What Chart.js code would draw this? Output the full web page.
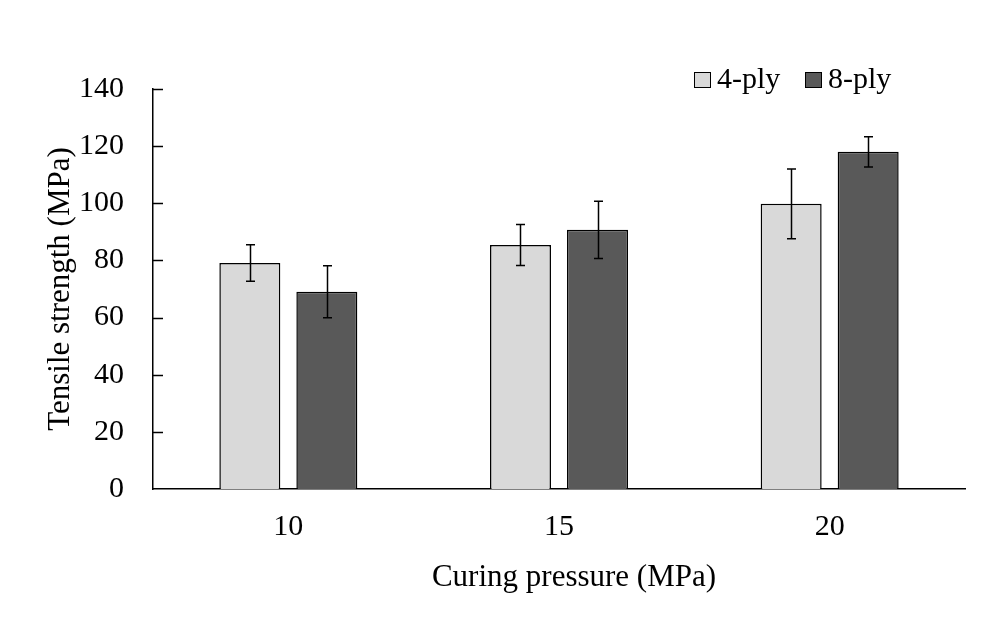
<!DOCTYPE html>
<html>
<head>
<meta charset="utf-8">
<script src="https://cdn.jsdelivr.net/npm/chart.js@4/dist/chart.umd.min.js"></script>
<style>
html,body{margin:0;padding:0;background:#fff;}
#wrap{width:1002px;height:621px;}
</style>
</head>
<body>
<div id="wrap"><canvas id="c" width="1002" height="621"></canvas></div>
<script>
const categories = ['10', '15', '20'];
const seriesNames = ['4-ply', '8-ply'];
const ply4 = [79.1, 85.4, 99.8];
const ply8 = [69.0, 90.7, 118.0];
const ply4Err = [6.4, 7.2, 12.2];
const ply8Err = [9.1, 10.0, 5.3];
const yTicks = [0, 20, 40, 60, 80, 100, 120, 140];
const xTitle = 'Curing pressure (MPa)';
const yTitle = 'Tensile strength (MPa)';

const FONT = 'Liberation Serif, Times New Roman, serif';
const FS = 30;
const TFS = 31;

const errorBars = {
  id: 'errorBars',
  afterDatasetsDraw(chart) {
    const ctx = chart.ctx;
    const y = chart.scales.y;
    const errs = [ply4Err, ply8Err];
    ctx.save();
    ctx.strokeStyle = '#000';
    ctx.lineWidth = 1.5;
    chart.data.datasets.forEach((ds, di) => {
      const meta = chart.getDatasetMeta(di);
      meta.data.forEach((bar, i) => {
        const v = ds.data[i], e = errs[di][i];
        const x = Math.round(bar.x) + 0.5;
        const yt = y.getPixelForValue(v + e), yb = y.getPixelForValue(v - e);
        ctx.beginPath();
        ctx.moveTo(x, yt); ctx.lineTo(x, yb);
        ctx.moveTo(x - 4.5, yt); ctx.lineTo(x + 4.5, yt);
        ctx.moveTo(x - 4.5, yb); ctx.lineTo(x + 4.5, yb);
        ctx.stroke();
      });
    });
    ctx.restore();
  }
};

const insideTicks = {
  id: 'insideTicks',
  afterDraw(chart) {
    const ctx = chart.ctx;
    const y = chart.scales.y;
    const left = chart.chartArea.left;
    ctx.save();
    ctx.strokeStyle = '#000';
    ctx.lineWidth = 1.5;
    yTicks.forEach(t => {
      if (t === 0) return;
      const py = Math.round(y.getPixelForValue(t)) + 0.5;
      ctx.beginPath();
      ctx.moveTo(left, py); ctx.lineTo(left + 10, py);
      ctx.stroke();
    });
    // x-axis title (slightly right of the plot centre, as in the original)
    ctx.font = TFS + 'px ' + FONT;
    ctx.fillStyle = '#000';
    ctx.textAlign = 'center';
    ctx.textBaseline = 'middle';
    ctx.fillText(xTitle, 574, 578);
    ctx.restore();
  }
};

const customLegend = {
  id: 'customLegend',
  afterDraw(chart) {
    const ctx = chart.ctx;
    const xs = [694, 805];
    ctx.save();
    ctx.font = FS + 'px ' + FONT;
    ctx.textBaseline = 'middle';
    chart.data.datasets.forEach((ds, i) => {
      const x = xs[i];
      ctx.fillStyle = ds.backgroundColor;
      ctx.fillRect(x, 72.5, 16, 15);
      ctx.strokeStyle = '#000';
      ctx.lineWidth = 1;
      ctx.strokeRect(x + 0.5, 72.5, 16, 15);
      ctx.fillStyle = '#000';
      ctx.fillText(ds.label, x + 23, 80);
    });
    ctx.restore();
  }
};

new Chart(document.getElementById('c'), {
  type: 'bar',
  data: {
    labels: categories,
    datasets: [
      { label: seriesNames[0], data: ply4, backgroundColor: '#d9d9d9', borderColor: '#000', borderWidth: 1.5 },
      { label: seriesNames[1], data: ply8, backgroundColor: '#595959', borderColor: '#000', borderWidth: 1.5 }
    ]
  },
  options: {
    responsive: false,
    animation: false,
    events: [],
    devicePixelRatio: 1,
    layout: { padding: { left: 0, right: 37, top: 89, bottom: 0 } },
    datasets: { bar: { categoryPercentage: 0.569, barPercentage: 0.792 } },
    plugins: { legend: { display: false }, tooltip: { enabled: false } },
    scales: {
      x: {
        grid: { display: false, drawTicks: false },
        border: { display: true, color: '#000', width: 1.5 },
        ticks: { color: '#000', font: { family: FONT, size: FS }, padding: 20 },
        title: { display: false },
        afterFit(s) { s.height = 132; }
      },
      y: {
        min: 0, max: 140,
        afterBuildTicks(s) { s.ticks = yTicks.map(v => ({ value: v })); },
        grid: { display: false, drawTicks: false },
        border: { display: true, color: '#000', width: 1.5 },
        ticks: { color: '#000', font: { family: FONT, size: FS }, padding: 29 },
        title: { display: true, text: yTitle, color: '#000', font: { family: FONT, size: TFS }, padding: { top: 42, bottom: 0 } },
        afterFit(s) { s.width = 153; }
      }
    }
  },
  plugins: [errorBars, insideTicks, customLegend]
});
</script>
</body>
</html>
